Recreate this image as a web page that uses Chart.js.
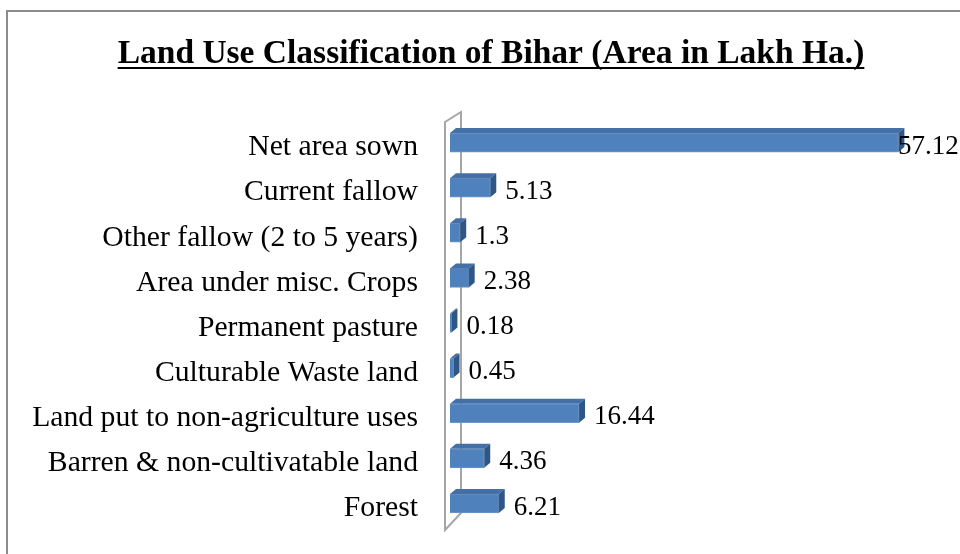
<!DOCTYPE html>
<html>
<head>
<meta charset="utf-8">
<script src="https://cdn.jsdelivr.net/npm/chart.js@4.4.1/dist/chart.umd.min.js"></script>
<style>
  html, body { margin: 0; padding: 0; background: #fff; }
  #wrap { width: 960px; height: 554px; position: relative; }
</style>
</head>
<body>
<div id="wrap"><canvas id="landChart" width="960" height="554"></canvas></div>
<script>
// data (top to bottom as shown)
const categories = [
    'Net area sown',
    'Current fallow',
    'Other fallow (2 to 5 years)',
    'Area under misc. Crops',
    'Permanent pasture',
    'Culturable Waste land',
    'Land put to non-agriculture uses',
    'Barren & non-cultivatable land',
    'Forest'
];
const areaValues = [57.12, 5.13, 1.3, 2.38, 0.18, 0.45, 16.44, 4.36, 6.21];
const chartTitle = 'Land Use Classification of Bihar (Area in Lakh Ha.)';

const serif = "'Liberation Serif', 'Times New Roman', serif";
const DEPTH_X = 6, DEPTH_Y = 5;

// outer frame + title with underline
const framePlugin = {
    id: 'frame',
    beforeDraw(chart) {
        const ctx = chart.ctx;
        ctx.save();
        ctx.strokeStyle = '#8c8c8c';
        ctx.lineWidth = 2;
        ctx.beginPath();
        ctx.moveTo(7, 554);
        ctx.lineTo(7, 11);
        ctx.lineTo(960, 11);
        ctx.stroke();

        ctx.font = 'bold 33.5px ' + serif;
        ctx.fillStyle = '#000';
        ctx.textAlign = 'center';
        ctx.textBaseline = 'alphabetic';
        const cx = 491, by = 63;
        ctx.fillText(chartTitle, cx, by);
        const w = ctx.measureText(chartTitle).width;
        ctx.fillRect(cx - w / 2, by + 4, w, 2);
        ctx.restore();
    }
};

// the 3d back wall behind the bars
const wallPlugin = {
    id: 'wall',
    beforeDatasetsDraw(chart) {
        const { ctx, chartArea } = chart;
        const l = chartArea.left - 5, r = chartArea.left + 11;
        ctx.save();
        ctx.strokeStyle = '#a6a6a6';
        ctx.lineWidth = 2;
        ctx.beginPath();
        ctx.moveTo(l, chartArea.bottom + 4);
        ctx.lineTo(l, chartArea.top + 2);
        ctx.lineTo(r, chartArea.top - 8);
        ctx.lineTo(r, chartArea.bottom - 13);
        ctx.closePath();
        ctx.stroke();
        ctx.restore();
    }
};

// top + side faces of bars and value labels
const bar3dPlugin = {
    id: 'bar3d',
    afterDatasetsDraw(chart) {
        const ctx = chart.ctx;
        const meta = chart.getDatasetMeta(0);
        ctx.save();
        meta.data.forEach((bar, i) => {
            const { x, y, base, height } = bar.getProps(['x', 'y', 'base', 'height'], true);
            const top = y - height / 2, bottom = y + height / 2;
            ctx.fillStyle = '#4470a6';
            ctx.beginPath();
            ctx.moveTo(base, top);
            ctx.lineTo(base + DEPTH_X, top - DEPTH_Y);
            ctx.lineTo(x + DEPTH_X, top - DEPTH_Y);
            ctx.lineTo(x, top);
            ctx.closePath();
            ctx.fill();
            ctx.fillStyle = '#2f5786';
            ctx.beginPath();
            ctx.moveTo(x, top);
            ctx.lineTo(x + DEPTH_X, top - DEPTH_Y);
            ctx.lineTo(x + DEPTH_X, bottom - DEPTH_Y);
            ctx.lineTo(x, bottom);
            ctx.closePath();
            ctx.fill();

            ctx.font = '27px ' + serif;
            ctx.fillStyle = '#000';
            ctx.textAlign = 'left';
            ctx.textBaseline = 'middle';
            const lx = Math.min(x + 15, 898);
            ctx.fillText(String(areaValues[i]), lx, y + 4);
        });
        ctx.restore();
    }
};

new Chart(document.getElementById('landChart'), {
    type: 'bar',
    data: {
        labels: categories,
        datasets: [{
            data: areaValues,
            backgroundColor: '#4f81bd',
            borderColor: '#6f96c8',
            borderWidth: 1,
            barThickness: 19
        }]
    },
    options: {
        indexAxis: 'y',
        responsive: false,
        animation: false,
        layout: { padding: { top: 120, right: 39, bottom: 28, left: 0 } },
        scales: {
            x: { display: false, min: 0, max: 60 },
            y: {
                grid: { display: false, drawTicks: false },
                border: { display: false },
                ticks: {
                    padding: 32,
                    labelOffset: 5,
                    color: '#000',
                    font: { family: serif, size: 29.7 }
                },
                afterFit(scale) {
                    scale.width = 450;
                    // tick padding should only push labels sideways
                    scale.paddingTop = 0;
                    scale.paddingBottom = 0;
                }
            }
        },
        plugins: {
            legend: { display: false },
            title: { display: false },
            tooltip: { enabled: false }
        }
    },
    plugins: [framePlugin, wallPlugin, bar3dPlugin]
});
</script>
</body>
</html>
